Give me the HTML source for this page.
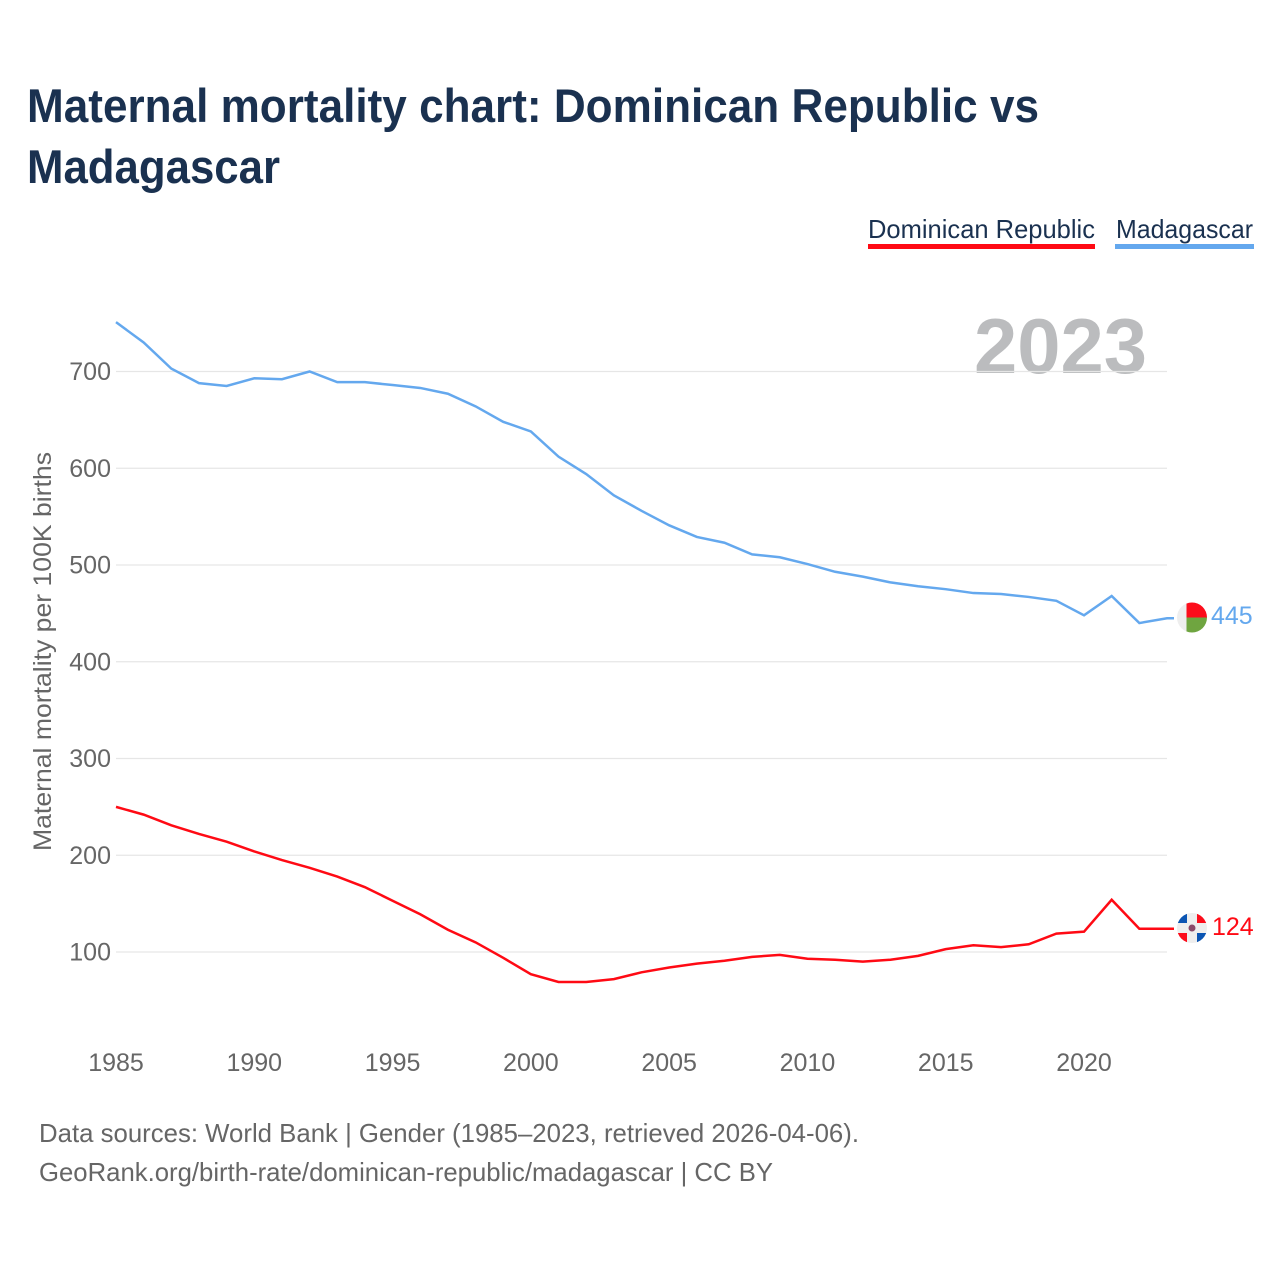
<!DOCTYPE html>
<html lang="en">
<head>
<meta charset="utf-8">
<title>Maternal mortality chart: Dominican Republic vs Madagascar</title>
<style>
html,body{margin:0;padding:0;background:#fff;}
svg{display:block;font-family:"Liberation Sans",sans-serif;}
</style>
</head>
<body>
<svg id="chart" xmlns="http://www.w3.org/2000/svg" width="1280" height="1280" viewBox="0 0 1280 1280">
  <defs>
    <clipPath id="clip-mg"><circle cx="1192" cy="617.5" r="15"/></clipPath>
    <clipPath id="clip-do"><circle cx="1192" cy="928" r="15"/></clipPath>
  </defs>
  <rect x="0" y="0" width="1280" height="1280" fill="#fff"/>
  <text x="27" y="122" font-size="47" font-weight="700" fill="#1a3150" textLength="1012" lengthAdjust="spacingAndGlyphs">Maternal mortality chart: Dominican Republic vs</text>
  <text x="27" y="183" font-size="47" font-weight="700" fill="#1a3150" textLength="253" lengthAdjust="spacingAndGlyphs">Madagascar</text>

  <g>
    <text x="868" y="238" font-size="26" fill="#1a3150" textLength="227" lengthAdjust="spacingAndGlyphs">Dominican Republic</text>
    <rect x="868" y="244" width="227" height="5" fill="#ff0a14"/>
  </g>
  <g>
    <text x="1116" y="238" font-size="26" fill="#1a3150" textLength="137" lengthAdjust="spacingAndGlyphs">Madagascar</text>
    <rect x="1115" y="244" width="139" height="5" fill="#64a8ee"/>
  </g>

  <text x="974" y="373" font-size="78" font-weight="700" fill="#bbbcbe" textLength="173" lengthAdjust="spacingAndGlyphs">2023</text>

  <g id="grid"></g>
  <g id="yticks"></g>
  <g id="xticks"></g>
  <text transform="translate(51,851) rotate(-90)" font-size="25" fill="#666" textLength="399" lengthAdjust="spacingAndGlyphs">Maternal mortality per 100K births</text>
  <g id="series"></g>

  <g clip-path="url(#clip-mg)">
    <rect x="1177" y="602" width="9.5" height="31" fill="#eeeeee"/>
    <rect x="1186.5" y="602" width="21" height="15.5" fill="#fc0d1b"/>
    <rect x="1186.5" y="617.5" width="21" height="16" fill="#6fa540"/>
  </g>
  <g clip-path="url(#clip-do)">
    <rect x="1177" y="913" width="30" height="30" fill="#eeeeee"/>
    <rect x="1177" y="913" width="10" height="10" fill="#0b55b3"/>
    <rect x="1197" y="913" width="10" height="10" fill="#fc0d1b"/>
    <rect x="1177" y="933" width="10" height="10" fill="#fc0d1b"/>
    <rect x="1197" y="933" width="10" height="10" fill="#0b55b3"/>
    <circle cx="1192" cy="928" r="3.5" fill="#8a4a6a"/>
  </g>
  <text id="label-mg" x="1211" y="624" font-size="25" fill="#64a8ee"></text>
  <text id="label-do" x="1212" y="935" font-size="25" fill="#ff0a14"></text>

  <text x="39" y="1142" font-size="26" fill="#666" textLength="820" lengthAdjust="spacingAndGlyphs">Data sources: World Bank | Gender (1985–2023, retrieved 2026-04-06).</text>
  <text x="39" y="1181" font-size="26" fill="#666" textLength="734" lengthAdjust="spacingAndGlyphs">GeoRank.org/birth-rate/dominican-republic/madagascar | CC BY</text>
</svg>
<script>
const firstYear = 1985;
const madagascar = [751,730,703,688,685,693,692,700,689,689,686,683,677,664,648,638,612,594,572,556,541,529,523,511,508,501,493,488,482,478,475,471,470,467,463,448,468,440,445];
const dominicanRepublic = [250,242,231,222,214,204,195,187,178,167,153,139,123,110,94,77,69,69,72,79,84,88,91,95,97,93,92,90,92,96,103,107,105,108,119,121,154,124,124];
const yTicks = [100,200,300,400,500,600,700];
const xTicks = [1985,1990,1995,2000,2005,2010,2015,2020];

const NS = 'http://www.w3.org/2000/svg';
function xScale(year){ return 116 + (year - 1985) * (1167 - 116) / 38; }
function yScale(v){ return 952 - (v - 100) * (952 - 371.5) / 600; }

const grid = document.getElementById('grid');
const yG = document.getElementById('yticks');
const xG = document.getElementById('xticks');
const seriesG = document.getElementById('series');

yTicks.forEach(function(t){
  const line = document.createElementNS(NS,'line');
  
  
  line.setAttribute('x1', 116);
  line.setAttribute('x2', 1167);
  line.setAttribute('y1', yScale(t));
  line.setAttribute('y2', yScale(t));
  line.setAttribute('stroke', '#e6e6e6');
  line.setAttribute('stroke-width', '1.3');
  grid.appendChild(line);
  const label = document.createElementNS(NS,'text');
  
  
  label.setAttribute('x', 111);
  label.setAttribute('y', yScale(t) + 8.5);
  label.setAttribute('text-anchor', 'end');
  label.setAttribute('font-size', '25');
  label.setAttribute('fill', '#666');
  label.textContent = t;
  yG.appendChild(label);
});

xTicks.forEach(function(t){
  const label = document.createElementNS(NS,'text');
  
  
  label.setAttribute('x', xScale(t));
  label.setAttribute('y', 1071);
  label.setAttribute('text-anchor', 'middle');
  label.setAttribute('font-size', '25');
  label.setAttribute('fill', '#666');
  label.textContent = t;
  xG.appendChild(label);
});

function buildPath(values){
  let d = '';
  values.forEach(function(v,i){
    d += (i ? 'L' : 'M') + xScale(firstYear + i).toFixed(2) + ' ' + yScale(v).toFixed(2);
  });
  const last = values[values.length - 1];
  d += 'L' + (xScale(firstYear + values.length - 1) + 7).toFixed(2) + ' ' + yScale(last).toFixed(2);
  return d;
}

const mgLine = document.createElementNS(NS,'path');


mgLine.setAttribute('d', buildPath(madagascar));
mgLine.setAttribute('fill', 'none');
mgLine.setAttribute('stroke', '#64a8ee');
mgLine.setAttribute('stroke-width', '2.5');
seriesG.appendChild(mgLine);

const doLine = document.createElementNS(NS,'path');


doLine.setAttribute('d', buildPath(dominicanRepublic));
doLine.setAttribute('fill', 'none');
doLine.setAttribute('stroke', '#ff0a14');
doLine.setAttribute('stroke-width', '2.5');
seriesG.appendChild(doLine);

document.getElementById('label-mg').textContent = madagascar[madagascar.length - 1];
document.getElementById('label-do').textContent = dominicanRepublic[dominicanRepublic.length - 1];
</script>
</body>
</html>
